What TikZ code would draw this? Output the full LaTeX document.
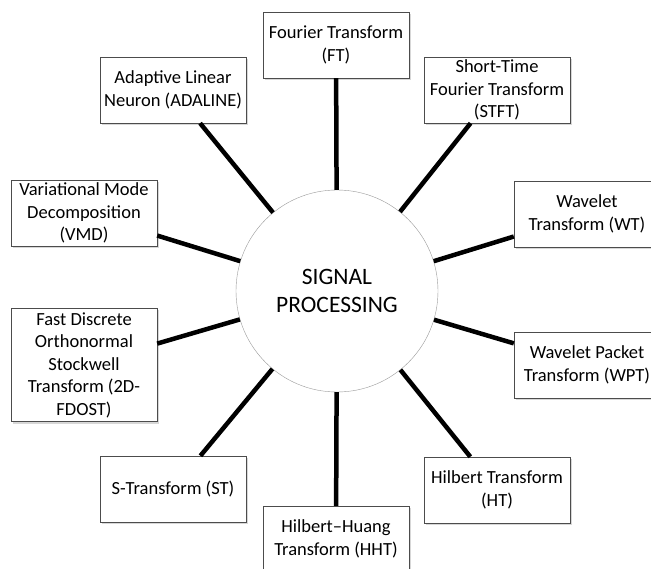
\documentclass[tikz,border=0pt]{standalone}
\usepackage{fontspec}
\setmainfont{Carlito}
\usetikzlibrary{shadows}

\begin{document}
\begin{tikzpicture}[x=1pt, y=-1pt,
				hubnode/.style={circle, draw=gray!80, fill=white, thin, minimum size=202pt, align=center, font=\fontsize{23.5}{28}\selectfont},
				boxnode/.style={rectangle, draw=gray!60!black, fill=white, thin, minimum width=146pt, minimum height=66pt, align=center, inner xsep=1pt, inner ysep=0pt, font=\fontsize{18.5}{22.5}\selectfont, drop shadow={shadow xshift=2pt, shadow yshift=-2pt, fill=gray!45, opacity=0.7}},
				spoke/.style={line width=4.5pt},
				]
				\useasboundingbox (0,0) rectangle (651,569);
		
				%Nodes
				\node[hubnode]		(hub)		at (337,291)	{SIGNAL\\PROCESSING};
				\node[boxnode]		(ft)		at (336,45)		{Fourier Transform\\(FT)};
				\node[boxnode]		(stft)		at (497,90)		{Short-Time\\Fourier Transform\\(STFT)};
				\node[boxnode]		(wt)		at (587,214)	{Wavelet\\Transform (WT)};
				\node[boxnode]		(wpt)		at (587,365)	{Wavelet Packet\\Transform (WPT)};
				\node[boxnode]		(ht)		at (497,490)	{Hilbert Transform\\(HT)};
				\node[boxnode]		(hht)		at (336,539)	{Hilbert--Huang\\Transform (HHT)};
				\node[boxnode]		(st)		at (173,489)	{S-Transform (ST)};
				\node[boxnode, minimum height=113pt]	(fdost)	at (84,365)	{Fast Discrete\\Orthonormal\\Stockwell\\Transform (2D-\\FDOST)};
				\node[boxnode]		(vmd)		at (84,213)		{Variational Mode\\Decomposition\\(VMD)};
				\node[boxnode]		(adaline)	at (173,90)		{Adaptive Linear\\Neuron (ADALINE)};
		
				%Lines
				\draw[spoke]	(hub) -- (ft);
				\draw[spoke]	(hub) -- (stft);
				\draw[spoke]	(hub) -- (wt);
				\draw[spoke]	(hub) -- (wpt);
				\draw[spoke]	(hub) -- (ht);
				\draw[spoke]	(hub) -- (hht);
				\draw[spoke]	(hub) -- (st);
				\draw[spoke]	(hub) -- (fdost);
				\draw[spoke]	(hub) -- (vmd);
				\draw[spoke]	(hub) -- (adaline);
			\end{tikzpicture}
\end{document}
